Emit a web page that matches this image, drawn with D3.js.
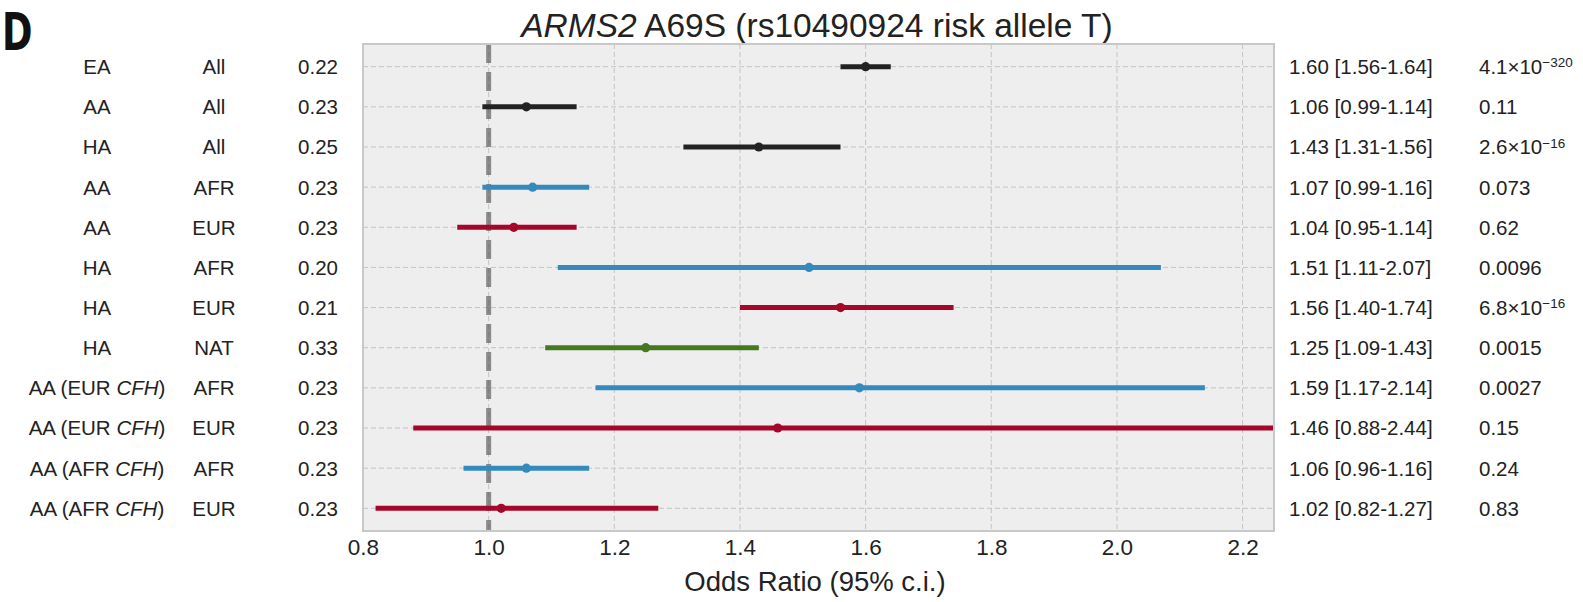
<!DOCTYPE html>
<html>
<head>
<meta charset="utf-8">
<script src="https://cdn.jsdelivr.net/npm/d3@7"></script>
<style>
  body { margin: 0; background: #fff; }
  text { font-family: "Liberation Sans", Arial, Helvetica, sans-serif; fill: #222; }
</style>
</head>
<body>
<svg id="chart" width="1583" height="602"></svg>
<script>
  /* Data */
  var cohorts   = ["EA", "AA", "HA", "AA", "AA", "HA", "HA", "HA",
                   "AA (EUR CFH)", "AA (EUR CFH)", "AA (AFR CFH)", "AA (AFR CFH)"];
  var ancestry  = ["All", "All", "All", "AFR", "EUR", "AFR", "EUR", "NAT", "AFR", "EUR", "AFR", "EUR"];
  var freqs     = ["0.22", "0.23", "0.25", "0.23", "0.23", "0.20", "0.21", "0.33", "0.23", "0.23", "0.23", "0.23"];
  var oddsRatio = [1.60, 1.06, 1.43, 1.07, 1.04, 1.51, 1.56, 1.25, 1.59, 1.46, 1.06, 1.02];
  var ciLow     = [1.56, 0.99, 1.31, 0.99, 0.95, 1.11, 1.40, 1.09, 1.17, 0.88, 0.96, 0.82];
  var ciHigh    = [1.64, 1.14, 1.56, 1.16, 1.14, 2.07, 1.74, 1.43, 2.14, 2.44, 1.16, 1.27];
  var pvals     = ["4.1×10^−320", "0.11", "2.6×10^−16", "0.073", "0.62", "0.0096",
                   "6.8×10^−16", "0.0015", "0.0027", "0.15", "0.24", "0.83"];
  var xTicks    = [0.8, 1.0, 1.2, 1.4, 1.6, 1.8, 2.0, 2.2];

  var colorOf = { "All": "#222222", "AFR": "#348ABD", "EUR": "#A60628", "NAT": "#467821" };

  /* Layout (window.top is read-only, so prefixed names) */
  var pL = 363, pR = 1274, pT = 44, pB = 531;
  var svg = d3.select("#chart");

  var x = d3.scaleLinear().domain([0.8, 2.25]).range([pL, pR]);
  var y = d3.scaleLinear().domain([-0.565, cohorts.length - 1 + 0.565]).range([pT, pB]);
  var rows = d3.range(cohorts.length);

  svg.append("defs").append("clipPath").attr("id", "plotClip")
     .append("rect").attr("x", pL).attr("y", pT)
     .attr("width", pR - pL).attr("height", pB - pT);

  // panel letter
  svg.append("text")
     .attr("transform", "translate(2,50) scale(0.8,1)")
     .style("font-family", "'Liberation Sans Narrow', 'DejaVu Sans Condensed', sans-serif")
     .style("font-weight", "bold")
     .style("font-size", "51px")
     .style("fill", "#111")
     .text("D");

  // title
  var title = svg.append("text")
     .attr("x", 817).attr("y", 37)
     .attr("text-anchor", "middle")
     .style("font-size", "33.5px");
  title.append("tspan").style("font-style", "italic").text("ARMS2");
  title.append("tspan").text(" A69S (rs10490924 risk allele T)");

  // background
  svg.append("rect").attr("x", pL).attr("y", pT)
     .attr("width", pR - pL).attr("height", pB - pT)
     .attr("fill", "#eeeeee");

  // grid
  var grid = svg.append("g").attr("stroke", "#c4c4c4").attr("stroke-width", 1)
                .attr("stroke-dasharray", "5,3");
  grid.selectAll("line.v").data(xTicks).enter().append("line").attr("class", "v")
      .attr("x1", function(d) { return x(d); }).attr("x2", function(d) { return x(d); })
      .attr("y1", pT).attr("y2", pB);
  grid.selectAll("line.h").data(rows).enter().append("line").attr("class", "h")
      .attr("x1", pL).attr("x2", pR)
      .attr("y1", function(d) { return y(d); }).attr("y2", function(d) { return y(d); });

  // reference line at OR = 1
  svg.append("line")
     .attr("x1", x(1)).attr("x2", x(1)).attr("y1", pT).attr("y2", pB)
     .attr("stroke", "#555").attr("stroke-opacity", 0.65)
     .attr("stroke-width", 5).attr("stroke-dasharray", "19,9");

  // CIs and points
  var marks = svg.append("g").attr("clip-path", "url(#plotClip)");
  marks.selectAll("line.ci").data(rows).enter().append("line").attr("class", "ci")
       .attr("x1", function(i) { return x(ciLow[i]); })
       .attr("x2", function(i) { return x(ciHigh[i]); })
       .attr("y1", function(i) { return y(i); }).attr("y2", function(i) { return y(i); })
       .attr("stroke", function(i) { return colorOf[ancestry[i]]; })
       .attr("stroke-width", 5);
  marks.selectAll("circle").data(rows).enter().append("circle")
       .attr("cx", function(i) { return x(oddsRatio[i]); })
       .attr("cy", function(i) { return y(i); })
       .attr("r", 4.6)
       .attr("fill", function(i) { return colorOf[ancestry[i]]; });

  // frame
  svg.append("rect").attr("x", pL).attr("y", pT)
     .attr("width", pR - pL).attr("height", pB - pT)
     .attr("fill", "none").attr("stroke", "#c8c8c8").attr("stroke-width", 2);

  // x axis
  var xAxis = svg.append("g").attr("transform", "translate(0," + pB + ")")
     .call(d3.axisBottom(x).tickValues(xTicks).tickFormat(d3.format(".1f")).tickSize(0).tickPadding(8));
  xAxis.select(".domain").remove();
  xAxis.selectAll("text").style("font-size", "22.5px").style("fill", "#222")
       .style("font-family", "'Liberation Sans', Arial, sans-serif");

  svg.append("text").attr("x", 815).attr("y", 591)
     .attr("text-anchor", "middle").style("font-size", "27.5px")
     .text("Odds Ratio (95% c.i.)");

  // left labels
  var labelSize = "20.5px";
  svg.selectAll("text.cohort").data(rows).enter().append("text")
     .attr("class", "cohort")
     .attr("x", 97).attr("y", function(i) { return y(i); }).attr("dy", "0.36em")
     .attr("text-anchor", "middle").style("font-size", labelSize)
     .each(function(i) {
       var t = d3.select(this);
       var parts = cohorts[i].split("CFH");
       t.append("tspan").text(parts[0]);
       if (parts.length > 1) {
         t.append("tspan").style("font-style", "italic").text("CFH");
         t.append("tspan").text(parts[1]);
       }
     });
  svg.selectAll("text.anc").data(rows).enter().append("text").attr("class", "anc")
     .attr("x", 214).attr("y", function(i) { return y(i); }).attr("dy", "0.36em")
     .attr("text-anchor", "middle").style("font-size", labelSize)
     .text(function(i) { return ancestry[i]; });
  svg.selectAll("text.freq").data(rows).enter().append("text").attr("class", "freq")
     .attr("x", 318).attr("y", function(i) { return y(i); }).attr("dy", "0.36em")
     .attr("text-anchor", "middle").style("font-size", labelSize)
     .text(function(i) { return freqs[i]; });

  // right labels
  var f2 = d3.format(".2f");
  svg.selectAll("text.or").data(rows).enter().append("text").attr("class", "or")
     .attr("x", 1289).attr("y", function(i) { return y(i); }).attr("dy", "0.36em")
     .style("font-size", labelSize)
     .text(function(i) { return f2(oddsRatio[i]) + " [" + f2(ciLow[i]) + "-" + f2(ciHigh[i]) + "]"; });
  svg.selectAll("text.p").data(rows).enter().append("text").attr("class", "p")
     .attr("x", 1479).attr("y", function(i) { return y(i); }).attr("dy", "0.36em")
     .style("font-size", labelSize)
     .each(function(i) {
       var t = d3.select(this);
       var parts = pvals[i].split("^");
       t.append("tspan").text(parts[0]);
       if (parts.length > 1) {
         t.append("tspan").attr("dy", "-0.5em").style("font-size", "13.5px").text(parts[1]);
       }
     });
</script>
</body>
</html>
